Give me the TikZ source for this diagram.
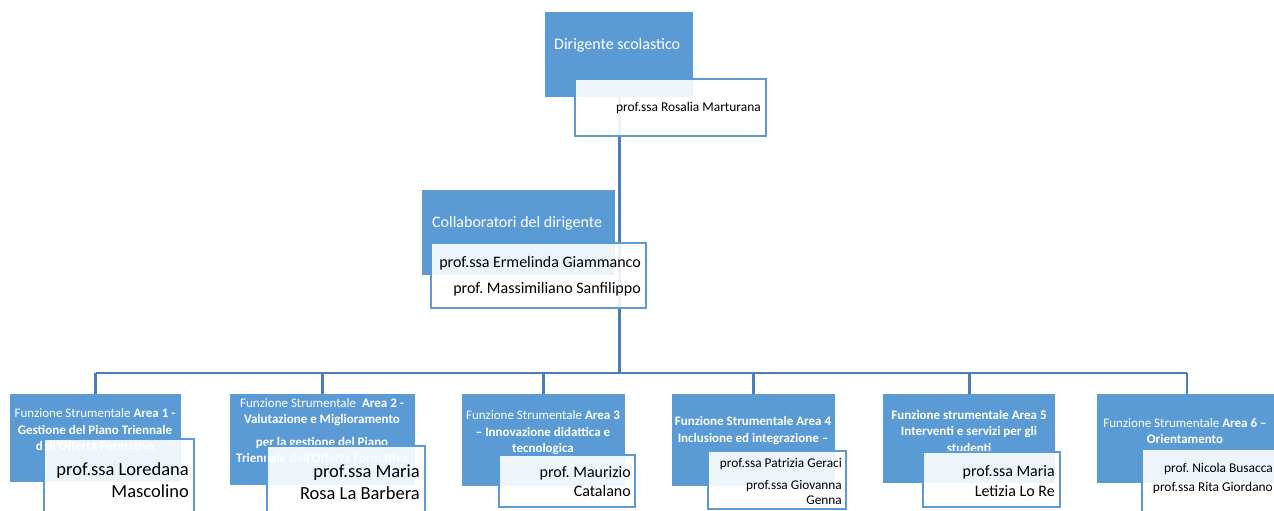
\documentclass[tikz,border=0pt]{standalone}
\usepackage{fontspec}
\setmainfont{Carlito}
\usetikzlibrary{positioning}
\definecolor{boxblue}{HTML}{5B9BD5}
\definecolor{edgeblue}{HTML}{5B9BD5}
\definecolor{connblue}{HTML}{4A7EBB}
\pgfdeclarelayer{background}
\pgfsetlayers{background,main}
\frenchspacing
\tikzset{
  bluebox/.style={fill=boxblue, draw=none, inner sep=0pt, anchor=north west},
  whitebox/.style={fill=white, fill opacity=0.9, draw=edgeblue, line width=2pt, inner sep=0pt, anchor=north west},
  conn/.style={draw=connblue, line width=2.6pt},
  lbl/.style={text=white, inner sep=0pt, align=center},
  names/.style={text=black, inner sep=0pt, align=right, anchor=east},
}
\newcommand{\fsz}[2]{\fontsize{#1}{#2}\selectfont}
\begin{document}
\begin{tikzpicture}[x=1pt,y=-1pt]
\useasboundingbox (0,0) rectangle (1274,511);
\clip (0,0) rectangle (1274,511);

% ---------- Dirigente ----------
\node[bluebox, minimum width=148pt, minimum height=85pt] (dir) at (545,12) {};
\node[lbl, anchor=west, font=\fsz{16}{19}] (dirt) at (554,45) {Dirigente scolastico};
\node[whitebox, minimum width=191pt, minimum height=57pt] (dirw) at (574,78) {};
\node[names, font=\fsz{13.4}{16}] (dirn) at (761,108) {prof.ssa Rosalia Marturana};

% ---------- Collaboratori ----------
\node[bluebox, minimum width=193pt, minimum height=85pt] (col) at (422,190) {};
\node[lbl, anchor=west, font=\fsz{16}{19}] (colt) at (432,223) {Collaboratori del dirigente};
\node[whitebox, minimum width=215pt, minimum height=65pt] (colw) at (430,242) {};
\node[names, font=\fsz{16}{26}] (coln) at (641,276) {prof.ssa Ermelinda Giammanco\\prof. Massimiliano Sanfilippo};

% ---------- Area 1 ----------
\node[bluebox, minimum width=171pt, minimum height=88pt] (b1) at (10,394) {};
\node[lbl, font=\fsz{13}{16.5}] (b1t) at (95,430) {Funzione Strumentale \textbf{Area 1 -}\\\textbf{Gestione del Piano Triennale}\\\textbf{dell’Offerta Formativa}};
\node[whitebox, minimum width=150pt, minimum height=90pt] (b1w) at (43,438) {};
\node[names, font=\fsz{18.5}{22}] (b1n) at (189,480) {prof.ssa Loredana\\Mascolino};

% ---------- Area 2 ----------
\node[bluebox, minimum width=185pt, minimum height=91pt] (b2) at (230,394) {};
\node[lbl, font=\fsz{13}{16}] (b2t) at (322,431) {Funzione Strumentale\ \ \textbf{Area 2 -}\\\textbf{Valutazione e Miglioramento}\\[7pt]\textbf{per la gestione del Piano}\\\textbf{Triennale dell’Offerta Formativa}};
\node[whitebox, minimum width=158pt, minimum height=90pt] (b2w) at (266,445) {};
\node[names, font=\fsz{18.5}{22}] (b2n) at (420,482) {prof.ssa Maria\\Rosa La Barbera};

% ---------- Area 3 ----------
\node[bluebox, minimum width=163pt, minimum height=92pt] (b3) at (462,394) {};
\node[lbl, font=\fsz{13}{16.5}] (b3t) at (543,433) {Funzione Strumentale \textbf{Area 3}\\\textbf{– Innovazione didattica e}\\\textbf{tecnologica}};
\node[whitebox, minimum width=136pt, minimum height=52pt] (b3w) at (498,454) {};
\node[names, font=\fsz{16}{19}] (b3n) at (631,482) {prof. Maurizio\\Catalano};

% ---------- Area 4 ----------
\node[bluebox, minimum width=163pt, minimum height=92pt] (b4) at (672,394) {};
\node[lbl, font=\fsz{13}{17}] (b4t) at (753,431) {\textbf{Funzione Strumentale Area 4}\\\textbf{Inclusione ed integrazione –}};
\node[whitebox, minimum width=138pt, minimum height=58pt] (b4w) at (707,450) {};
\node[names, font=\fsz{13.3}{15}] (b4n) at (842,481) {prof.ssa Patrizia Geraci\\[7pt]prof.ssa Giovanna\\Genna};

% ---------- Area 5 ----------
\node[bluebox, minimum width=172pt, minimum height=89pt] (b5) at (883,394) {};
\node[lbl, font=\fsz{13}{16.5}] (b5t) at (969,431) {\textbf{Funzione strumentale Area 5}\\\textbf{Interventi e servizi per gli}\\\textbf{studenti}};
\node[whitebox, minimum width=137pt, minimum height=55pt] (b5w) at (922,451) {};
\node[names, font=\fsz{16}{20}] (b5n) at (1055,481) {prof.ssa Maria\\Letizia Lo Re};

% ---------- Area 6 ----------
\node[bluebox, minimum width=180pt, minimum height=89pt] (b6) at (1097,394) {};
\node[lbl, font=\fsz{13}{16.5}] (b6t) at (1185,431) {Funzione Strumentale \textbf{Area 6 –}\\\textbf{Orientamento}};
\node[whitebox, minimum width=140pt, minimum height=90pt] (b6w) at (1141,448) {};
\node[names, font=\fsz{13.4}{19}] (b6n) at (1273,478) {prof. Nicola Busacca\\prof.ssa Rita Giordano};

% ---------- connectors ----------
\coordinate (barL) at (95.5,373);
\coordinate (barR) at (1187,373);
\begin{pgfonlayer}{background}
  \draw[conn] (dir.south) -- (dir.south |- barL);
  \draw[conn] (barL) -- (barR);
  \foreach \b in {b1,b2,b3,b4,b5}{
    \draw[conn] (\b.north |- barL) -- (\b.north);
  }
  \draw[conn] (barR) -- (barR |- b6.north);
\end{pgfonlayer}
\end{tikzpicture}
\end{document}
